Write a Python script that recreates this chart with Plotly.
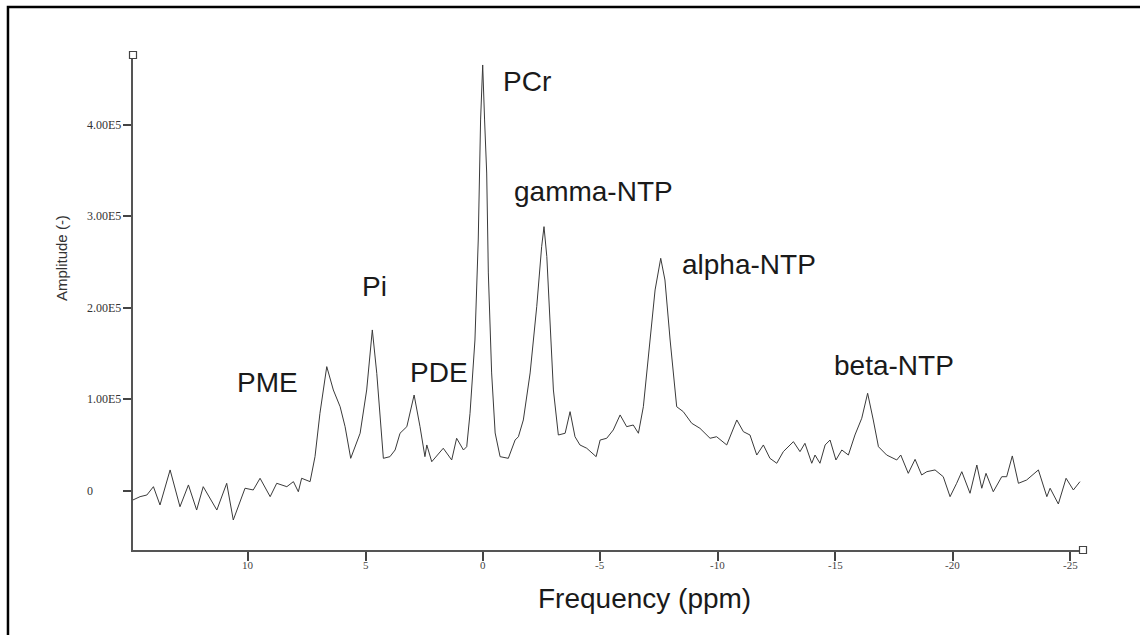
import plotly.graph_objects as go

# Frequency (ppm) and amplitude values
ppm = [14.90, 14.60, 14.31, 14.03, 13.75, 13.32, 12.90, 12.54, 12.19, 11.91,
       11.33, 10.91, 10.63, 10.13, 9.78, 9.49, 9.06, 8.78, 8.35, 8.07,
       7.86, 7.72, 7.36, 7.15, 6.94, 6.65, 6.37, 6.08, 5.87, 5.63,
       5.23, 4.95, 4.71, 4.52, 4.24, 3.96, 3.74, 3.53, 3.24, 2.93,
       2.68, 2.47, 2.39, 2.18, 1.69, 1.33, 1.12, 0.83, 0.69, 0.55,
       0.34, 0.20, 0.10, 0.01, -0.07, -0.16, -0.23, -0.37, -0.52, -0.73,
       -1.08, -1.37, -1.51, -1.72, -2.01, -2.29, -2.50, -2.60, -2.72, -2.86,
       -3.00, -3.21, -3.50, -3.71, -3.92, -4.13, -4.42, -4.82, -4.99, -5.27,
       -5.55, -5.84, -6.12, -6.40, -6.62, -6.83, -7.04, -7.33, -7.57, -7.75,
       -7.97, -8.25, -8.53, -8.89, -9.24, -9.67, -9.95, -10.38, -10.81, -11.09,
       -11.37, -11.66, -11.94, -12.22, -12.51, -12.79, -13.22, -13.50, -13.71, -14.00,
       -14.14, -14.35, -14.57, -14.78, -15.03, -15.28, -15.56, -15.84, -16.13, -16.38,
       -16.62, -16.84, -17.19, -17.62, -17.79, -18.11, -18.40, -18.68, -18.90, -19.25,
       -19.60, -19.89, -20.17, -20.39, -20.74, -21.03, -21.24, -21.42, -21.73, -22.09,
       -22.30, -22.54, -22.80, -23.15, -23.65, -24.01, -24.15, -24.50, -24.83, -25.14,
       -25.42]

amplitude = [-9800, -6200, -4400, 4700, -15300, 23000, -17200, 6600, -20800, 4700,
             -20800, 8400, -31700, 3000, 1100, 13900, -6200, 8400, 4700, 10200,
             -800, 13900, 10200, 37500, 84900, 135900, 110400, 92100, 70300, 35700,
             63100, 110400, 176000, 128600, 35700, 37500, 44800, 63100, 70300, 104900,
             70300, 37500, 50300, 32000, 46700, 33900, 57600, 44800, 48400, 84900,
             165000, 274300, 405500, 465600, 405500, 347500, 238300, 129000, 63400, 37500,
             35700, 55700, 59300, 77600, 129000, 201400, 267000, 288900, 256100, 183600,
             110400, 61200, 63100, 86700, 59300, 50300, 46700, 37500, 55700, 57600,
             66700, 83100, 70300, 72100, 63100, 92100, 146800, 219700, 254300, 230600,
             165000, 92100, 86700, 74000, 68500, 57600, 59300, 50300, 77600, 64800,
             61200, 39300, 50300, 35700, 30300, 43000, 53900, 43000, 52100, 30300,
             39300, 30300, 50300, 55700, 33900, 44800, 39300, 61200, 79500, 106800,
             77600, 48400, 39300, 33900, 39300, 19300, 34600, 17500, 21100, 23000,
             15600, -6200, 8400, 21100, -2500, 28400, 3000, 19300, -800, 15600,
             15600, 38300, 8400, 12000, 23000, -6200, 3000, -14200, 13900, 1100,
             10200]

x_ticks = [10, 5, 0, -5, -10, -15, -20, -25]
y_ticks = [0, 100000, 200000, 300000, 400000]
y_tick_labels = ["0", "1.00E5", "2.00E5", "3.00E5", "4.00E5"]

peak_labels = ["PCr", "gamma-NTP", "alpha-NTP", "Pi", "PME", "PDE", "beta-NTP"]
peak_label_ppm = [-0.75, -1.22, -8.40, 5.22, 10.55, 3.20, -14.85]
peak_label_amp = [448000, 327000, 248000, 224000, 119000, 130000, 137000]

X_RANGE = [14.9, -25.55]
Y_RANGE = [-64500, 476500]

fig = go.Figure()
fig.add_trace(go.Scatter(x=ppm, y=amplitude, mode="lines",
                         line=dict(color="#3a3a3a", width=1),
                         hoverinfo="skip", showlegend=False))

serif = "Liberation Serif, Times New Roman, serif"
sans = "Liberation Sans, Arial, Helvetica, sans-serif"

annotations = []
for t, xv, yv in zip(peak_labels, peak_label_ppm, peak_label_amp):
    annotations.append(dict(x=xv, y=yv, xref="x", yref="y", text=t, showarrow=False,
                            xanchor="left", yanchor="middle",
                            font=dict(family=sans, size=28, color="#1a1a1a")))

for v, lab in zip(y_ticks, y_tick_labels):
    if lab == "0":
        annotations.append(dict(x=-0.051, y=v, xref="paper", yref="y", text=lab,
                                showarrow=False, xanchor="left", yanchor="middle",
                                font=dict(family=serif, size=12, color="#333")))
    else:
        annotations.append(dict(x=-0.0105, y=v, xref="paper", yref="y", text=lab,
                                showarrow=False, xanchor="right", yanchor="middle",
                                font=dict(family=serif, size=12, color="#333")))

for v in x_ticks:
    annotations.append(dict(x=v, y=-0.0303, xref="x", yref="paper", text=str(v),
                            showarrow=False, xanchor="center", yanchor="middle",
                            font=dict(family=serif, size=11, color="#444")))

annotations.append(dict(x=-0.0747, y=0.59, xref="paper", yref="paper",
                        text="Amplitude (-)", showarrow=False, textangle=-90,
                        xanchor="center", yanchor="middle",
                        font=dict(family=sans, size=15, color="#333")))
annotations.append(dict(x=0.538, y=-0.097, xref="paper", yref="paper",
                        text="Frequency (ppm)", showarrow=False,
                        xanchor="center", yanchor="middle",
                        font=dict(family=sans, size=28, color="#1a1a1a")))

shapes = [
    # outer frame (top and left edges visible)
    dict(type="rect", xref="paper", yref="paper", x0=-0.1316, x1=1.2, y0=-0.4, y1=1.097,
         line=dict(color="black", width=2.5), fillcolor="rgba(0,0,0,0)", layer="above"),
    # small square at top of y axis
    dict(type="rect", xref="paper", yref="paper", xsizemode="pixel", ysizemode="pixel",
         xanchor=0, yanchor=1, x0=-3.5, x1=3.5, y0=-3.5, y1=3.5,
         line=dict(color="#444", width=1.2), fillcolor="white"),
    # small square at right end of x axis
    dict(type="rect", xref="paper", yref="paper", xsizemode="pixel", ysizemode="pixel",
         xanchor=1, yanchor=0, x0=-3.5, x1=3.5, y0=-3.5, y1=3.5,
         line=dict(color="#444", width=1.2), fillcolor="white"),
]

fig.update_layout(
    width=1140, height=635,
    margin=dict(l=133, r=57, t=55, b=85),
    paper_bgcolor="white", plot_bgcolor="white",
    showlegend=False,
    annotations=annotations,
    shapes=shapes,
    xaxis=dict(range=X_RANGE, tickvals=x_ticks, ticktext=["" for _ in x_ticks],
               showgrid=False, zeroline=False, showline=True, linecolor="#555",
               linewidth=1.5, ticks="outside", ticklen=9, tickwidth=1.5, tickcolor="#444",
               mirror=False),
    yaxis=dict(range=Y_RANGE, tickvals=y_ticks, ticktext=["" for _ in y_ticks],
               showgrid=False, zeroline=False, showline=True, linecolor="#555",
               linewidth=1.5, ticks="outside", ticklen=8, tickwidth=1.5, tickcolor="#444",
               mirror=False),
)

fig.write_html("out.html")
